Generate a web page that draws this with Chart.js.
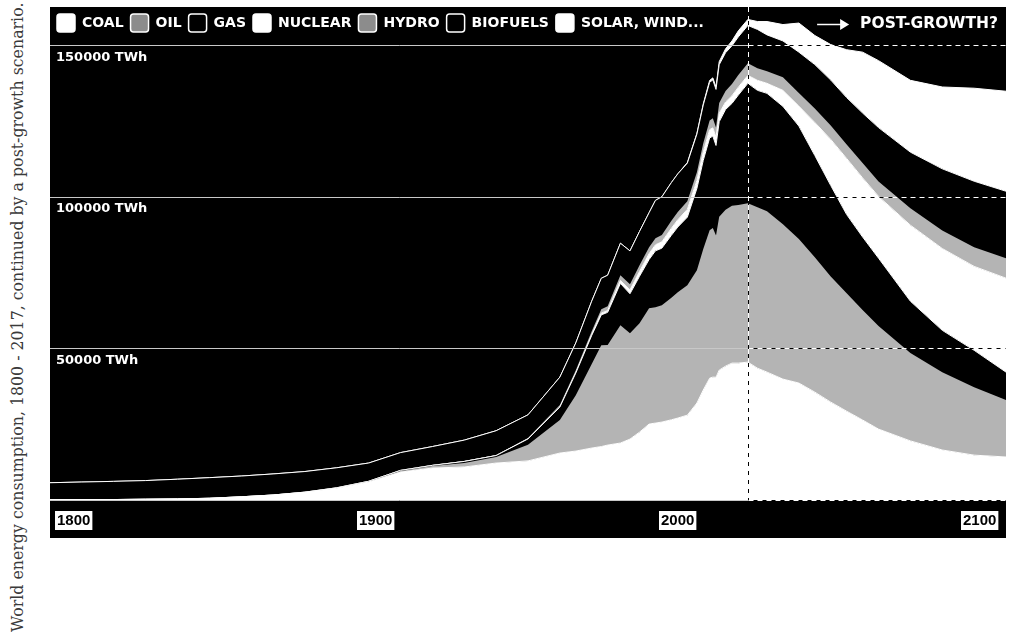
<!DOCTYPE html>
<html>
<head>
<meta charset="utf-8">
<script src="https://cdn.jsdelivr.net/npm/chart.js@4.4.1/dist/chart.umd.min.js"></script>
<style>
  html, body { margin:0; padding:0; background:#fff; width:1011px; height:635px; overflow:hidden; }
  #wrap { position:absolute; left:50px; top:7px; width:956px; height:531px; background:#000; }
  #caption {
    position:absolute; left:0; top:0; white-space:nowrap;
    font-family:'DejaVu Serif', 'Liberation Serif', serif; font-size:15.8px;
    line-height:30px; height:30px; color:#3a3a3a;
    transform-origin:0 0; transform:translate(3px, 632px) rotate(-90deg);
  }
</style>
</head>
<body>
<div id="caption">World energy consumption, 1800 - 2017, continued by a post-growth scenario.</div>
<div id="wrap"><canvas id="c"></canvas></div>
<script>
// ---------------- data (TWh per year) ----------------
const years = [1800,1810,1820,1830,1840,1850,1860,1870,1880,1890,1900,1910,1920,1930,1940,1950,1960,1965,
  1970,1973,1975,1979,1982,1985,1988,1990,1992,1995,1997,2000,2003,2005,2007,2008,2009,2010,2012,2014,2016,2019,
  2022,2025,2030,2035,2040,2045,2050,2055,2060,2070,2080,2090,2100];

const coal = [100,130,150,260,360,570,1060,1640,2540,3900,5900,9200,10550,10900,12200,12900,15500,16150,
  17150,17640,18130,18800,20100,22400,25060,25390,25720,26470,27040,28000,32000,36300,40200,40550,40500,42860,44180,45170,45170,45500,
  43500,42200,39900,38600,35600,32300,29300,26400,23400,19500,16500,14800,14200];

const oil = [0,0,0,0,0,0,0,10,40,80,180,330,660,1300,2000,5300,10900,18460,
  27700,33460,33000,38900,34950,35940,38240,38250,38580,40290,41540,42860,43850,46500,48800,49200,46800,50600,51600,51900,52200,52400,
  53100,53100,51100,47500,44500,41500,38900,36300,34000,29000,25700,22400,18800];

const gas = [0,0,0,0,0,0,0,0,20,60,100,250,230,530,470,1960,4260,7290,
  9470,9990,10800,13790,13000,15500,16060,18590,18800,20600,21500,22470,26960,29300,30470,30340,29700,31380,33100,33800,36260,39600,
  38600,38900,38900,37300,33600,30000,26000,24100,22400,17100,13800,12200,9200];

const nuclear = [0,0,0,0,0,0,0,0,0,0,0,0,0,0,0,0,0,30,
  230,580,600,1000,1300,1600,1950,2000,2100,2330,2400,2580,2640,2770,2750,2730,2700,2770,2470,2540,2600,2640,
  3300,3300,5300,6600,10900,15200,18500,19500,20400,25100,27000,27700,31000];

const hydro = [0,0,0,0,0,0,0,0,0,0,20,60,100,130,190,340,690,920,
  1180,1300,1450,1700,1850,2000,2100,2160,2250,2480,2550,2650,2700,2900,3050,3200,3200,3440,3660,3880,4000,3960,
  4000,4000,4300,4300,4600,4600,4600,4900,4900,5600,5900,6300,6600];

const biofuels = [5600,5800,6000,6150,6500,6800,6850,6950,6800,6600,6000,5800,6100,6900,8000,7600,9200,9000,
  9900,10200,10200,10550,11000,11200,11400,12500,12600,12600,12600,12600,12600,12600,12600,12600,12600,12600,12600,12600,12600,12500,
  12800,12000,12000,13500,14500,15000,15500,16500,17800,18500,20400,21800,22100];

const solarWind = [0,0,0,0,0,0,0,0,0,0,0,0,0,0,0,0,0,0,
  0,0,0,0,0,0,0,0,0,0,0,200,300,400,600,700,800,1000,1300,1600,2000,2000,
  2600,4400,5400,9600,9600,11700,15800,20100,22100,23700,27000,30700,33000];

const seriesNames = ['COAL','OIL','GAS','NUCLEAR','HYDRO','BIOFUELS','SOLAR, WIND...'];
const yTickValues = [50000, 100000, 150000];
const xTickYears = [1800, 1900, 2000, 2100];
const xTickLabels = ['1800', '1900', '2000', '2100'];
const postGrowthYear = 2019;
const annotationText = 'POST-GROWTH?';

// ---------------- styling ----------------
const seriesValues = [coal, oil, gas, nuclear, hydro, biofuels, solarWind];
const areaFill   = ['#ffffff','#b4b4b4','#000000','#ffffff','#b4b4b4','#000000','#ffffff'];
const areaBorder = ['#ffffff','#b4b4b4','#ffffff','#ffffff','#b4b4b4','#ffffff','#ffffff'];
const areaBorderW = [1,0,1,1,0,1,1];
const legendFill = ['#ffffff','#8c8c8c','#000000','#ffffff','#8c8c8c','#000000','#ffffff'];
const SANS = "'DejaVu Sans', 'Liberation Sans', sans-serif";
const ARIAL = "'Liberation Sans', Arial, sans-serif";

function dashedLine(ctx, x1, y1, x2, y2) {
  ctx.setLineDash([]);
  ctx.strokeStyle = '#000';
  ctx.beginPath(); ctx.moveTo(x1, y1); ctx.lineTo(x2, y2); ctx.stroke();
  ctx.setLineDash([5, 4]);
  ctx.strokeStyle = '#fff';
  ctx.beginPath(); ctx.moveTo(x1, y1); ctx.lineTo(x2, y2); ctx.stroke();
  ctx.setLineDash([]);
}

// lay the legend out as one row inside the chart area
const rowLegend = {
  id: 'rowLegend',
  beforeUpdate(chart) {
    if (chart.legend && !chart.legend.__row) {
      chart.legend.isHorizontal = () => true;
      chart.legend.__row = true;
    }
  }
};

const guides = {
  id: 'guides',
  afterDatasetsDraw(chart) {
    const { ctx, chartArea: a, scales } = chart;
    const x = scales.x, y = scales.y;
    const xp = Math.round(x.getPixelForValue(postGrowthYear)) + 0.5;
    ctx.save();
    ctx.lineWidth = 1;
    [0, ...yTickValues].forEach(v => {
      const yp = Math.round(y.getPixelForValue(v)) + 0.5;
      ctx.setLineDash([]);
      ctx.strokeStyle = '#c8c8c8';
      ctx.beginPath(); ctx.moveTo(a.left, yp); ctx.lineTo(xp, yp); ctx.stroke();
      dashedLine(ctx, xp, yp, a.right, yp);
    });
    dashedLine(ctx, xp, a.top, xp, Math.round(y.getPixelForValue(0)));
    ctx.restore();
  },
  afterDraw(chart) {
    const { ctx, chartArea: a } = chart;
    ctx.save();
    ctx.font = "bold 15.5px " + SANS;
    ctx.fillStyle = '#fff';
    ctx.textAlign = 'right';
    ctx.textBaseline = 'middle';
    const right = a.right - 8;
    const cy = a.top + 17;
    ctx.fillText(annotationText, right, cy);
    const w = ctx.measureText(annotationText).width;
    const tipX = right - w - 12;
    ctx.strokeStyle = '#fff';
    ctx.lineWidth = 1.5;
    ctx.beginPath(); ctx.moveTo(tipX - 31, cy + 0.5); ctx.lineTo(tipX - 6, cy + 0.5); ctx.stroke();
    ctx.beginPath(); ctx.moveTo(tipX - 8, cy - 5); ctx.lineTo(tipX + 1, cy + 0.5); ctx.lineTo(tipX - 8, cy + 6); ctx.closePath(); ctx.fill();
    ctx.restore();
  }
};

new Chart(document.getElementById('c'), {
  type: 'line',
  data: {
    datasets: seriesValues.map((vals, i) => ({
      label: seriesNames[i],
      data: years.map((yr, j) => ({ x: yr, y: vals[j] })),
      backgroundColor: areaFill[i],
      borderColor: areaBorder[i],
      borderWidth: areaBorderW[i],
      fill: i === 0 ? 'origin' : '-1',
      pointRadius: 0,
      tension: 0
    }))
  },
  options: {
    responsive: true,
    maintainAspectRatio: false,
    animation: false,
    events: [],
    layout: { padding: 0 },
    scales: {
      x: { type: 'linear', min: 1800, max: 2100, display: false },
      x2: {
        type: 'linear', position: 'bottom', min: 1797.68, max: 2114.24,
        grid: { display: false, drawTicks: false }, border: { display: false },
        afterBuildTicks: s => { s.ticks = xTickYears.map(v => ({ value: v })); },
        ticks: {
          align: 'start', autoSkip: false, maxRotation: 0, minRotation: 0, padding: 12,
          color: '#000', font: { family: ARIAL, size: 15, weight: 'bold' },
          showLabelBackdrop: true, backdropColor: '#fff',
          backdropPadding: { top: 1, bottom: 0, left: 2, right: 2 },
          callback: (v, i) => xTickLabels[i]
        },
        afterFit: s => { s.height = 38; s.paddingLeft = 0; s.paddingRight = 0; }
      },
      y: {
        stacked: true, min: 0, max: 162700, position: 'left', z: 1,
        grid: { display: false, drawTicks: false }, border: { display: false },
        afterBuildTicks: s => { s.ticks = yTickValues.map(v => ({ value: v })); },
        ticks: {
          mirror: true, padding: 6, labelOffset: 12, color: '#fff',
          font: { family: SANS, size: 13, weight: 'bold' },
          callback: v => v + ' TWh'
        },
        afterFit: s => { s.width = 0; s.paddingTop = 0; s.paddingBottom = 0; }
      }
    },
    plugins: {
      tooltip: { enabled: false },
      legend: {
        position: 'chartArea', align: 'start',
        labels: {
          color: '#fff', boxWidth: 18, boxHeight: 18, padding: 7,
          useBorderRadius: true, borderRadius: 3,
          font: { family: SANS, size: 14, weight: 'bold' },
          generateLabels: chart => chart.data.datasets.map((ds, i) => ({
            text: ds.label, fillStyle: legendFill[i], strokeStyle: '#fff',
            lineWidth: 1.5, fontColor: '#fff', hidden: false, datasetIndex: i, borderRadius: 3
          }))
        }
      }
    }
  },
  plugins: [rowLegend, guides]
});
</script>
</body>
</html>
